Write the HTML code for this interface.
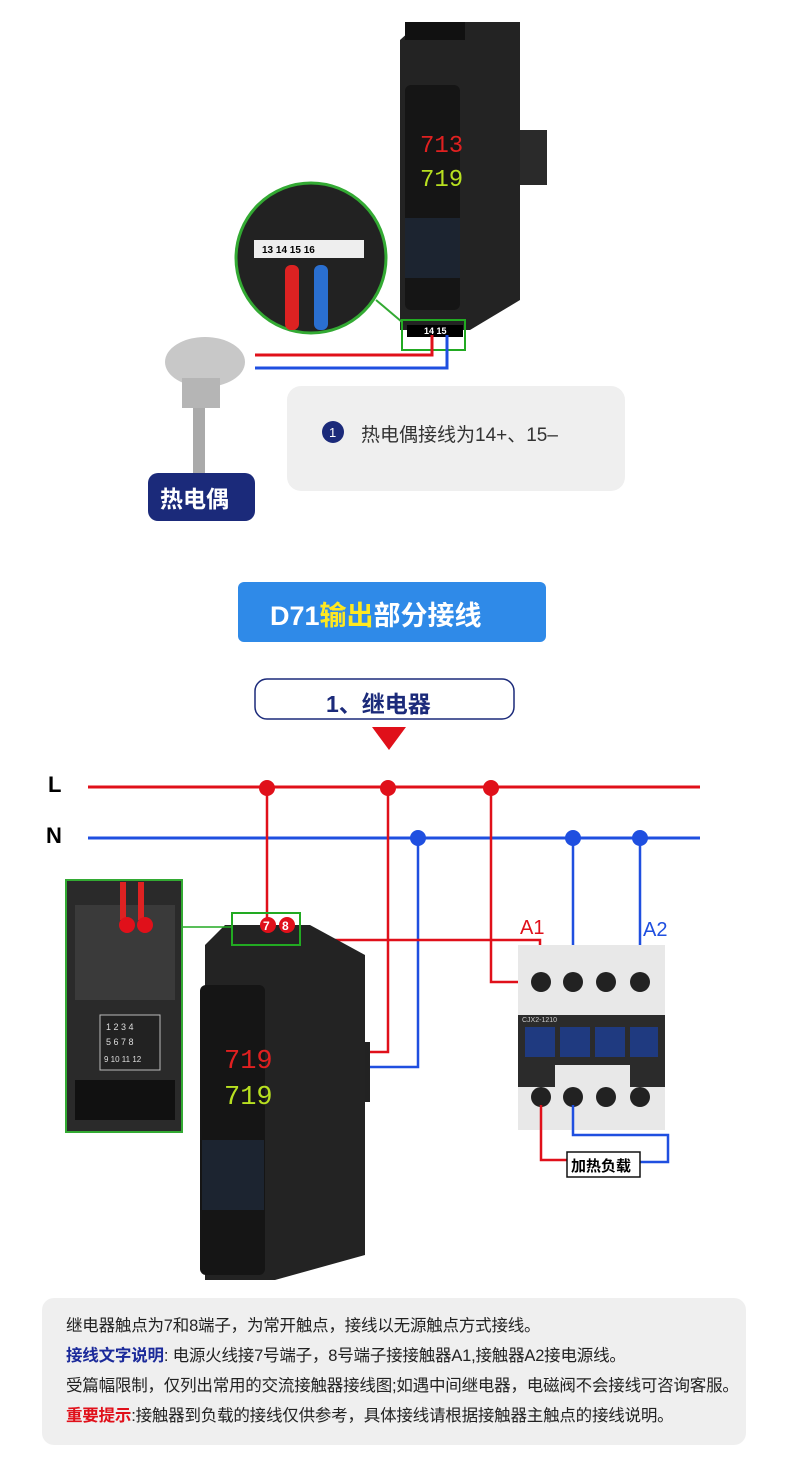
<!DOCTYPE html>
<html><head><meta charset="utf-8"><style>
body{margin:0;background:#fff;width:790px;height:1469px;overflow:hidden;font-family:"Liberation Sans","Noto Sans CJK SC",sans-serif}
svg{position:absolute;left:0;top:0}
.t{position:absolute;font-family:"Liberation Sans","Noto Sans CJK SC",sans-serif}
</style></head><body>
<svg width="790" height="1469" viewBox="0 0 790 1469">
<rect x="515" y="130" width="32" height="55" fill="#2a2a2a"/>
<path d="M400 40 L420 22 L520 22 L520 300 L470 330 L400 330 Z" fill="#232323"/>
<rect x="405" y="22" width="60" height="18" fill="#111"/>
<rect x="405" y="85" width="55" height="225" rx="6" fill="#151515"/>
<text x="420" y="152" fill="#e02020" font-size="24" font-family="Liberation Mono">713</text>
<text x="420" y="186" fill="#b8e020" font-size="24" font-family="Liberation Mono">719</text>
<rect x="405" y="218" width="55" height="60" fill="#1c2430"/>
<rect x="407" y="325" width="56" height="12" fill="#000"/>
<text x="424" y="334" fill="#fff" font-size="9" font-weight="bold">14 15</text>
<rect x="402" y="320" width="63" height="30" fill="none" stroke="#2a2" stroke-width="2"/>
<circle cx="311" cy="258" r="75" fill="#222" stroke="#3a3" stroke-width="3"/>
<rect x="254" y="240" width="110" height="18" fill="#eee"/>
<text x="262" y="253" font-size="10" font-weight="bold">13  14  15  16</text>
<rect x="285" y="265" width="14" height="65" rx="6" fill="#d22"/>
<rect x="314" y="265" width="14" height="65" rx="6" fill="#2a6fd0"/>
<line x1="376" y1="300" x2="402" y2="322" stroke="#3a3" stroke-width="2"/>
<rect x="193" y="400" width="12" height="75" fill="#aaa"/>
<ellipse cx="205" cy="362" rx="40" ry="25" fill="#c8c8c8"/>
<rect x="182" y="378" width="38" height="30" fill="#b5b5b5"/>
<path d="M255 355 H432 V335" stroke="#e0101a" stroke-width="3" fill="none"/>
<path d="M255 368 H447 V335" stroke="#1f4fe0" stroke-width="3" fill="none"/>
<rect x="287" y="386" width="338" height="105" rx="14" fill="#efefef"/>
<circle cx="333" cy="432" r="11" fill="#1b2a7a"/>
<text x="329" y="437" fill="#fff" font-size="13">1</text>
<rect x="148" y="473" width="107" height="48" rx="10" fill="#1b2a7a"/>
<rect x="238" y="582" width="308" height="60" rx="6" fill="#2f8ae8"/>
<rect x="255" y="679" width="259" height="40" rx="12" fill="#fff" stroke="#1b2a7a" stroke-width="1.5"/>
<path d="M372 727 H406 L389 750 Z" fill="#e0101a"/>
<line x1="88" y1="787" x2="700" y2="787" stroke="#e0101a" stroke-width="3"/>
<line x1="88" y1="838" x2="700" y2="838" stroke="#1f4fe0" stroke-width="3"/>
<g fill="none" stroke-width="2.5">
<path d="M267 787 V925" stroke="#e0101a"/>
<path d="M388 787 V1052 H370" stroke="#e0101a"/>
<path d="M418 838 V1067 H370" stroke="#1f4fe0"/>
<path d="M491 787 V982 H540" stroke="#e0101a"/>
<path d="M290 940 H540 V958" stroke="#e0101a"/>
<path d="M573 838 V982" stroke="#1f4fe0"/>
<path d="M640 838 V958" stroke="#1f4fe0"/>
</g>
<g fill="#e0101a"><circle cx="267" cy="788" r="8"/><circle cx="388" cy="788" r="8"/><circle cx="491" cy="788" r="8"/></g>
<g fill="#1f4fe0"><circle cx="418" cy="838" r="8"/><circle cx="573" cy="838" r="8"/><circle cx="640" cy="838" r="8"/></g>
<rect x="355" y="1042" width="15" height="60" fill="#222"/>
<path d="M205 945 L225 925 L310 925 L365 955 L365 1255 L275 1280 L205 1280 Z" fill="#232323"/>
<rect x="200" y="985" width="65" height="290" rx="6" fill="#151515"/>
<text x="224" y="1068" fill="#e02020" font-size="27" font-family="Liberation Mono">719</text>
<text x="224" y="1104" fill="#b8e020" font-size="27" font-family="Liberation Mono">719</text>
<rect x="202" y="1140" width="62" height="70" fill="#1c2430"/>
<rect x="232" y="913" width="68" height="32" fill="none" stroke="#2a2" stroke-width="2"/>
<circle cx="268" cy="925" r="8" fill="#e0101a"/><circle cx="287" cy="925" r="8" fill="#e0101a"/>
<text x="263" y="930" fill="#fff" font-size="12" font-weight="bold">7</text><text x="282" y="930" fill="#fff" font-size="12" font-weight="bold">8</text>
<line x1="182" y1="927" x2="232" y2="927" stroke="#2a2" stroke-width="1.5"/>
<rect x="66" y="880" width="116" height="252" fill="#2a2a2a" stroke="#3a3" stroke-width="2"/>
<rect x="75" y="905" width="100" height="95" fill="#3a3a3a"/>
<rect x="120" y="882" width="6" height="38" fill="#d22"/><rect x="138" y="882" width="6" height="38" fill="#d22"/>
<circle cx="127" cy="925" r="8" fill="#e0101a"/><circle cx="145" cy="925" r="8" fill="#e0101a"/>
<rect x="100" y="1015" width="60" height="55" fill="#222" stroke="#bbb"/>
<text x="106" y="1030" fill="#ddd" font-size="9">1 2 3 4</text><text x="106" y="1045" fill="#ddd" font-size="9">5 6 7 8</text><text x="104" y="1062" fill="#ddd" font-size="8">9 10 11 12</text>
<rect x="75" y="1080" width="100" height="40" fill="#111"/>
<rect x="518" y="945" width="147" height="70" fill="#e8e8e8"/>
<rect x="518" y="1015" width="147" height="82" fill="#2b2b2b"/>
<rect x="525" y="1027" width="30" height="30" fill="#1f3a80"/><rect x="560" y="1027" width="30" height="30" fill="#1f3a80"/><rect x="595" y="1027" width="30" height="30" fill="#1f3a80"/><rect x="630" y="1027" width="28" height="30" fill="#1f3a80"/>
<rect x="555" y="1065" width="75" height="30" fill="#e8e8e8"/>
<rect x="518" y="1087" width="147" height="43" fill="#e8e8e8"/>
<g fill="#222"><circle cx="541" cy="982" r="10"/><circle cx="573" cy="982" r="10"/><circle cx="606" cy="982" r="10"/><circle cx="640" cy="982" r="10"/>
<circle cx="541" cy="1097" r="10"/><circle cx="573" cy="1097" r="10"/><circle cx="606" cy="1097" r="10"/><circle cx="640" cy="1097" r="10"/></g>
<text x="522" y="1022" fill="#ccc" font-size="7">CJX2-1210</text>
<path d="M541 1105 V1160 H568" stroke="#e0101a" stroke-width="2.5" fill="none"/>
<path d="M573 1105 V1135 H668 V1162 H640" stroke="#1f4fe0" stroke-width="2.5" fill="none"/>
<rect x="567" y="1152" width="73" height="25" fill="#fff" stroke="#111" stroke-width="1.5"/>
<rect x="42" y="1298" width="704" height="147" rx="12" fill="#efefef"/>
</svg>
<div class="t" style="left:361px;top:420px;font-size:19px;color:#333">热电偶接线为14+、15–</div>
<div class="t" style="left:160px;top:480px;font-size:23px;color:#fff;font-weight:bold">热电偶</div>
<div class="t" style="left:270px;top:594px;font-size:27px;color:#fff;font-weight:bold">D71<span style="color:#ffe820">输出</span>部分接线</div>
<div class="t" style="left:326px;top:685px;font-size:23px;color:#1b2a7a;font-weight:bold">1、继电器</div>
<div class="t" style="left:48px;top:772px;font-size:22px;font-weight:bold">L</div>
<div class="t" style="left:46px;top:823px;font-size:22px;font-weight:bold">N</div>
<div class="t" style="left:520px;top:917px;font-size:20px;color:#e0101a">A1</div>
<div class="t" style="left:643px;top:919px;font-size:20px;color:#1f4fe0">A2</div>
<div class="t" style="left:571px;top:1155px;font-size:15px;font-weight:bold">加热负载</div>
<div class="t" style="left:66px;top:1311px;font-size:16.5px;color:#222;line-height:30px;white-space:nowrap;letter-spacing:-0.2px">继电器触点为7和8端子，为常开触点，接线以无源触点方式接线。<br><b style="color:#1b2a9a">接线文字说明</b>: 电源火线接7号端子，8号端子接接触器A1,接触器A2接电源线。<br>受篇幅限制，仅列出常用的交流接触器接线图;如遇中间继电器，电磁阀不会接线可咨询客服。<br><b style="color:#e0101a">重要提示</b>:接触器到负载的接线仅供参考，具体接线请根据接触器主触点的接线说明。</div>
</body></html>
